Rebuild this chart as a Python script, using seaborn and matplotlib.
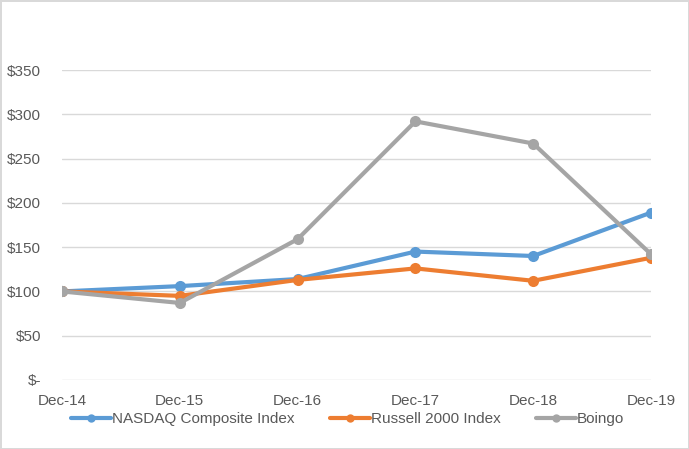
import matplotlib
matplotlib.use("Agg")
import matplotlib.pyplot as plt
import seaborn as sns
import pandas as pd
from matplotlib.ticker import FuncFormatter

years = ["Dec-14", "Dec-15", "Dec-16", "Dec-17", "Dec-18", "Dec-19"]
nasdaq = [100, 106, 114, 145, 140, 189]
russell = [100, 95, 113, 126, 112, 138]
boingo = [100, 87, 159, 292, 267, 142]
series_names = ["NASDAQ Composite Index", "Russell 2000 Index", "Boingo"]
colors = ["#5B9BD5", "#ED7D31", "#A5A5A5"]
yticks = [0, 50, 100, 150, 200, 250, 300, 350]

rows = []
for name, vals in zip(series_names, [nasdaq, russell, boingo]):
    for i, (yr, v) in enumerate(zip(years, vals)):
        rows.append({"x": i, "year": yr, "value": v, "series": name})
df = pd.DataFrame(rows)

sns.set_theme(style="white")
plt.rcParams["font.family"] = ["Liberation Sans Narrow", "Liberation Sans", "DejaVu Sans"]

fig = plt.figure(figsize=(6.89, 4.49), dpi=100)
ax = fig.add_axes([62 / 689, (449 - 380) / 449, (651 - 62) / 689, 310 / 449])

sns.lineplot(data=df, x="x", y="value", hue="series", hue_order=series_names,
             palette=colors, marker="o", markersize=8, markeredgewidth=0,
             linewidth=3, ax=ax, legend=True, zorder=3)

ax.set_xlim(0, 5)
ax.set_ylim(0, 350)
ax.set_yticks(yticks)
ax.yaxis.set_major_formatter(FuncFormatter(lambda v, p: "$-" if v == 0 else f"${int(v)}"))
ax.set_xticks(range(len(years)))
ax.set_xticklabels(years)
ax.grid(axis="y", color="#D9D9D9", linewidth=1)
ax.set_axisbelow(True)
for s in ax.spines.values():
    s.set_visible(False)
ax.tick_params(axis="both", colors="#595959", labelsize=11, length=0)
ax.tick_params(axis="y", pad=15)
ax.tick_params(axis="x", pad=10)
ax.set_xlabel("")
ax.set_ylabel("")

handles, labels = ax.get_legend_handles_labels()
for h in handles:
    h.set_markersize(6)
leg = ax.legend(handles, labels, loc="upper center", bbox_to_anchor=(0.485, -0.085),
                ncol=3, frameon=False, fontsize=11, handlelength=2.6,
                columnspacing=2.3, handletextpad=0.1, borderaxespad=0,
                labelcolor="#595959")

fig.patch.set_edgecolor("#D9D9D9")
fig.patch.set_linewidth(2)
fig.savefig("out.png", dpi=100, edgecolor=fig.get_edgecolor())
